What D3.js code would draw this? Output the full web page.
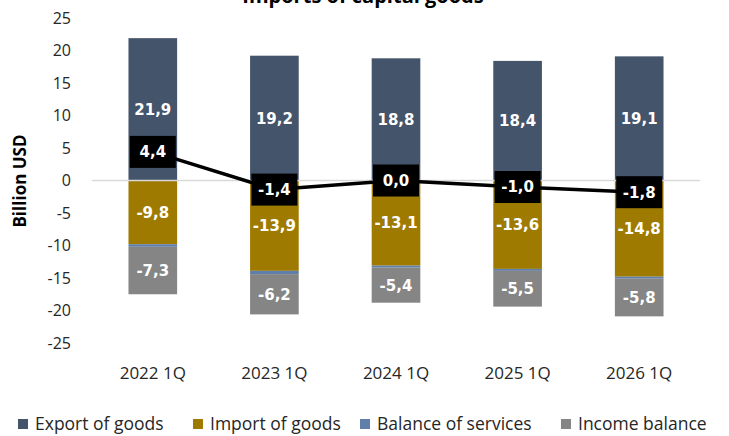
<!DOCTYPE html>
<html>
<head>
<meta charset="utf-8">
<script src="https://cdn.jsdelivr.net/npm/d3@7"></script>
<style>
  body { margin: 0; background: #fff; }
  svg { display: block; }
  text { font-family: "Open Sans", Lato, sans-serif; fill: #262626; }
</style>
</head>
<body>
<div id="chart"></div>
<script>
// data (billion USD)
var quarters = ["2022 1Q", "2023 1Q", "2024 1Q", "2025 1Q", "2026 1Q"];
var exportGoods = [21.9, 19.2, 18.8, 18.4, 19.1];
var importGoods = [-9.8, -13.9, -13.1, -13.6, -14.8];
var servicesBalance = [-0.4, -0.5, -0.3, -0.3, -0.3];
var incomeBalance = [-7.3, -6.2, -5.4, -5.5, -5.8];
var netBalance = [4.4, -1.4, 0.0, -1.0, -1.8];
var yTicks = [25, 20, 15, 10, 5, 0, -5, -10, -15, -20, -25];

var seriesNames = ["Export of goods", "Import of goods", "Balance of services", "Income balance"];
var seriesColors = ["#44546a", "#9e7b00", "#5f7fab", "#858585"];
var seriesKeys = ["exp", "imp", "srv", "inc"];

var W = 729, H = 436;
var svg = d3.select("#chart").append("svg").attr("width", W).attr("height", H);

// table for d3.stack
var rows = quarters.map(function (q, i) {
  return { q: q, exp: exportGoods[i], imp: importGoods[i], srv: servicesBalance[i], inc: incomeBalance[i], net: netBalance[i] };
});

var x = d3.scaleBand().domain(quarters).range([92, 700]).paddingInner(0.6).paddingOuter(0.3);
var y = d3.scaleLinear().domain([-25, 25]).range([343, 18]);

var stack = d3.stack().keys(seriesKeys).offset(d3.stackOffsetDiverging);
var layers = stack(rows);

// title, its top is cut off by the frame as in the source
svg.append("text")
  .attr("x", 363).attr("y", 3)
  .attr("text-anchor", "middle")
  .style("font-weight", "bold").style("font-size", "20px").style("fill", "#000")
  .text("Imports of capital goods");

// y axis ticks (no line)
svg.append("g").selectAll("text").data(yTicks).join("text")
  .attr("x", 71).attr("y", function (d) { return y(d); })
  .attr("dy", "0.35em").attr("text-anchor", "end")
  .style("font-size", "16px")
  .text(function (d) { return d; });

svg.append("text")
  .attr("transform", "translate(26,181) rotate(-90)")
  .attr("text-anchor", "middle")
  .style("font-weight", "bold").style("font-size", "17px").style("fill", "#000")
  .text("Billion USD");

// bars
var bars = svg.append("g");
layers.forEach(function (layer, li) {
  bars.selectAll(null).data(layer).join("rect")
    .attr("x", function (d) { return x(d.data.q); })
    .attr("width", x.bandwidth())
    .attr("y", function (d) { return y(Math.max(d[0], d[1])); })
    .attr("height", function (d) { return Math.abs(y(d[0]) - y(d[1])); })
    .attr("fill", seriesColors[li]);
});

// zero line
svg.append("line")
  .attr("x1", 92).attr("x2", 700)
  .attr("y1", y(0)).attr("y2", y(0))
  .attr("stroke", "#d9d9d9").attr("stroke-width", 1.5);

var fmt = function (v) { return d3.format(".1f")(v).replace(".", ",").replace("−", "-"); };

// segment labels (export, import, income)
[0, 1, 3].forEach(function (li) {
  svg.append("g").selectAll("text").data(layers[li]).join("text")
    .attr("x", function (d) { return x(d.data.q) + x.bandwidth() / 2; })
    .attr("y", function (d) { return y((d[0] + d[1]) / 2); })
    .attr("dy", "0.36em").attr("text-anchor", "middle")
    .style("font-family", "'DejaVu Sans', Verdana, sans-serif")
    .style("font-weight", "bold").style("font-size", "15px").style("fill", "#fff")
    .text(function (d) { return fmt(d.data[seriesKeys[li]]); });
});

// net balance line
var line = d3.line()
  .x(function (d) { return x(d.q) + x.bandwidth() / 2; })
  .y(function (d) { return y(d.net); });
svg.append("path").datum(rows)
  .attr("d", line).attr("fill", "none")
  .attr("stroke", "#000").attr("stroke-width", 3.5);

var boxes = svg.append("g").selectAll("g").data(rows).join("g")
  .attr("transform", function (d) { return "translate(" + (x(d.q) + x.bandwidth() / 2) + "," + y(d.net) + ")"; });
boxes.append("rect")
  .attr("x", -23).attr("y", -16).attr("width", 46).attr("height", 32)
  .attr("fill", "#000");
boxes.append("text")
  .attr("dy", "0.36em").attr("text-anchor", "middle")
  .style("font-family", "'DejaVu Sans', Verdana, sans-serif")
  .style("font-weight", "bold").style("font-size", "15px").style("fill", "#fff")
  .text(function (d) { return fmt(d.net); });

// category labels
svg.append("g").selectAll("text").data(quarters).join("text")
  .attr("x", function (d) { return x(d) + x.bandwidth() / 2; })
  .attr("y", 373).attr("dy", "0.35em").attr("text-anchor", "middle")
  .style("font-size", "17px")
  .text(function (d) { return d; });

// legend
var legendX = [18, 193, 360, 561];
var legend = svg.append("g").selectAll("g").data(seriesNames).join("g")
  .attr("transform", function (d, i) { return "translate(" + legendX[i] + ",419)"; });
legend.append("rect").attr("width", 10).attr("height", 10)
  .attr("fill", function (d, i) { return seriesColors[i]; });
legend.append("text").attr("x", 17).attr("y", 5).attr("dy", "0.35em")
  .style("font-size", "17.5px")
  .text(function (d) { return d; });
</script>
</body>
</html>
